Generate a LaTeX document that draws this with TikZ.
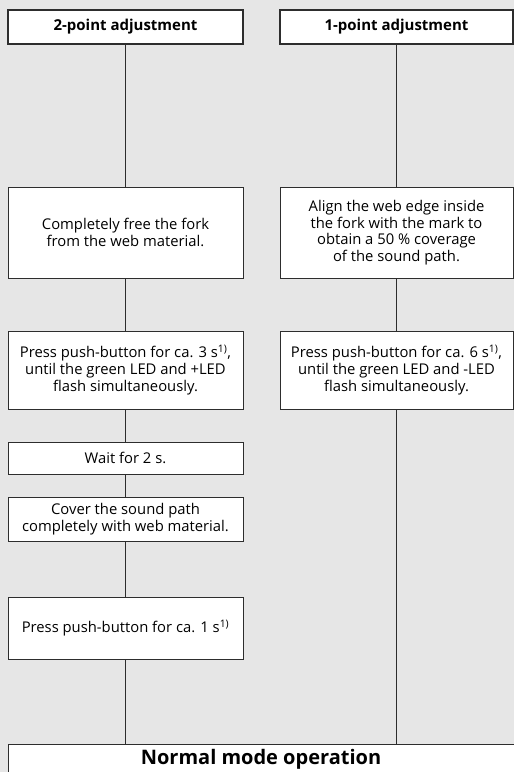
\documentclass[tikz,border=0pt]{standalone}
\usepackage{fontspec}
\setmainfont{Open Sans}
\definecolor{bg}{RGB}{230,230,230}
\definecolor{ln}{RGB}{45,45,45}
\tikzset{
  stepbox/.style={draw=ln, line width=1pt, fill=white, minimum width=235pt, align=center,
    font=\fontsize{14.8}{16.7}\selectfont, inner sep=1pt},
  headbox/.style={stepbox, line width=1.9pt, font=\fontsize{15}{17}\selectfont\bfseries},
  conn/.style={draw=ln, line width=1pt}
}
\begin{document}
\begin{tikzpicture}[x=1pt,y=-1pt]
\useasboundingbox (0,0) rectangle (514,772);
\fill[bg] (0,0) rectangle (514,772);
% headers
\node[headbox, minimum height=34pt] (h1) at (125.5,27) {2-point adjustment};
\node[headbox, minimum height=34pt, minimum width=233pt] (h2) at (396.5,27) {1-point adjustment};
% left column
\node[stepbox, minimum height=91pt] (a1) at (125.5,232.5) {Completely free the fork\\from the web material.};
\node[stepbox, minimum height=78pt] (a2) at (125.5,370) {Press push-button for ca. 3 s\textsuperscript{1)},\\until the green LED and +LED\\flash simultaneously.};
\node[stepbox, minimum height=32pt] (a3) at (125.5,458) {Wait for 2 s.};
\node[stepbox, minimum height=44pt] (a4) at (125.5,519) {Cover the sound path\\completely with web material.};
\node[stepbox, minimum height=62pt] (a5) at (125.5,628) {Press push-button for ca. 1 s\textsuperscript{1)}};
% right column
\node[stepbox, minimum height=91pt, minimum width=233pt] (b1) at (396.5,232.5) {Align the web edge inside\\the fork with the mark to\\obtain a 50 \% coverage\\of the sound path.};
\node[stepbox, minimum height=78pt, minimum width=233pt] (b2) at (396.5,370) {Press push-button for ca. 6 s\textsuperscript{1)},\\until the green LED and -LED\\flash simultaneously.};
% bottom
\node[stepbox, minimum width=506pt, minimum height=30pt, font=\fontsize{20}{22}\selectfont\bfseries] (n) at (261,759) {Normal mode operation};
% connectors
\draw[conn] (h1) -- (a1);
\draw[conn] (a1) -- (a2);
\draw[conn] (a2) -- (a3);
\draw[conn] (a3) -- (a4);
\draw[conn] (a4) -- (a5);
\draw[conn] (a5.south) -- (a5.south |- n.north);
\draw[conn] (h2) -- (b1);
\draw[conn] (b1) -- (b2);
\draw[conn] (b2.south) -- (b2.south |- n.north);
\end{tikzpicture}
\end{document}
